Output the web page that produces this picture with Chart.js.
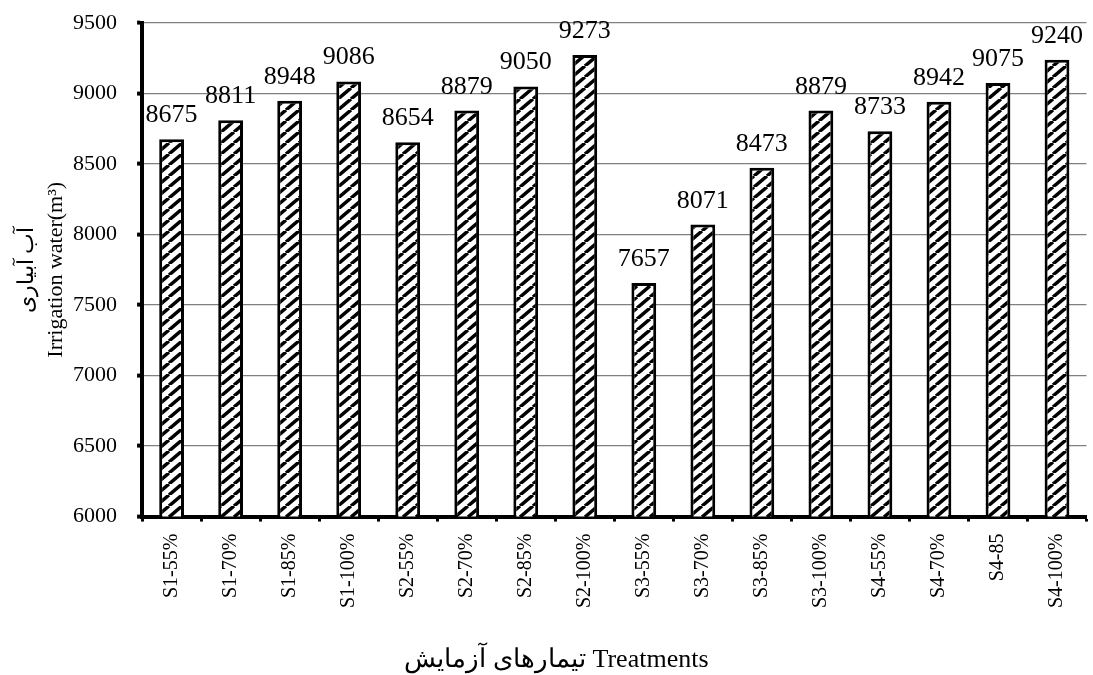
<!DOCTYPE html>
<html>
<head>
<meta charset="utf-8">
<script src="https://cdn.jsdelivr.net/npm/chart.js@4.4.0/dist/chart.umd.min.js"></script>
<style>
  html, body { margin: 0; padding: 0; background: #fff; }
  #wrap { width: 1093px; height: 675px; }
</style>
</head>
<body>
<div id="wrap"><canvas id="chart"></canvas></div>
<script>
const treatments = ["S1-55%", "S1-70%", "S1-85%", "S1-100%", "S2-55%", "S2-70%", "S2-85%", "S2-100%",
                    "S3-55%", "S3-70%", "S3-85%", "S3-100%", "S4-55%", "S4-70%", "S4-85", "S4-100%"];
const irrigationWater = [8675, 8811, 8948, 9086, 8654, 8879, 9050, 9273, 7657, 8071, 8473, 8879, 8733, 8942, 9075, 9240];
const yTicks = [6000, 6500, 7000, 7500, 8000, 8500, 9000, 9500];
const xTitle = 'تیمارهای آزمایش Treatments';
const yTitle = ['آب آبیاری', 'Irrigation water(m³)'];

Chart.defaults.font.family = '"Liberation Serif", "DejaVu Serif", serif';
Chart.defaults.color = 'black';

// diagonal hatch for the bars
function hatch() {
    const w = 13, h = 11;
    const c = document.createElement('canvas');
    c.width = w; c.height = h;
    const g = c.getContext('2d');
    g.fillStyle = '#fff';
    g.fillRect(0, 0, w, h);
    g.strokeStyle = '#000';
    g.lineWidth = 3.5;
    for (let k = -1; k <= 1; k++) {
        g.beginPath();
        g.moveTo(k * w, h);
        g.lineTo(k * w + w, 0);
        g.stroke();
    }
    return g.createPattern(c, 'repeat');
}

// value labels above each bar + x axis title under the labels
const barValues = {
    id: 'barValues',
    afterDatasetsDraw(chart) {
        const ctx = chart.ctx;
        const meta = chart.getDatasetMeta(0);
        ctx.save();
        ctx.font = '26px "Liberation Serif", serif';
        ctx.fillStyle = '#000';
        ctx.textAlign = 'center';
        ctx.textBaseline = 'alphabetic';
        meta.data.forEach((bar, i) => {
            ctx.fillText(String(chart.data.datasets[0].data[i]), bar.x, bar.y - 17);
        });
        ctx.font = '26px "Liberation Serif", serif';
        ctx.textBaseline = 'middle';
        ctx.fillText(xTitle, chart.width / 2 + 10, chart.height - 15);
        ctx.restore();
    }
};

new Chart(document.getElementById('chart').getContext('2d'), {
    type: 'bar',
    data: {
        labels: treatments,
        datasets: [{
            label: 'Irrigation water',
            data: irrigationWater,
            backgroundColor: hatch(),
            borderColor: '#000',
            borderWidth: 3,
            borderSkipped: false,
            categoryPercentage: 1.0,
            barPercentage: 0.42
        }]
    },
    options: {
        responsive: true,
        maintainAspectRatio: false,
        animation: false,
        layout: {
            padding: { left: 13, right: 0, top: 23, bottom: 55 }
        },
        plugins: {
            legend: { display: false },
            tooltip: { enabled: false }
        },
        scales: {
            x: {
                border: { display: true, color: '#000', width: 4 },
                grid: {
                    drawOnChartArea: false,
                    drawTicks: true,
                    tickLength: 5,
                    tickColor: '#000',
                    tickWidth: 3
                },
                ticks: {
                    maxRotation: 90,
                    minRotation: 90,
                    padding: 12,
                    font: { size: 20 }
                }
            },
            y: {
                min: 6000,
                max: 9500,
                afterBuildTicks(axis) {
                    axis.ticks = yTicks.map(v => ({ value: v }));
                },
                afterFit(axis) {
                    axis.paddingTop = 0;
                },
                border: { display: true, color: '#000', width: 4 },
                grid: {
                    color: '#808080',
                    lineWidth: 1.2,
                    tickLength: 5,
                    tickColor: '#000',
                    tickWidth: 4
                },
                ticks: {
                    padding: 20,
                    font: { size: 22 },
                    callback: v => String(v)
                },
                title: {
                    display: true,
                    text: yTitle,
                    font: { size: 22, lineHeight: 1.32 },
                    padding: { top: 0, bottom: -18 }
                }
            }
        }
    },
    plugins: [barValues]
});
</script>
</body>
</html>
